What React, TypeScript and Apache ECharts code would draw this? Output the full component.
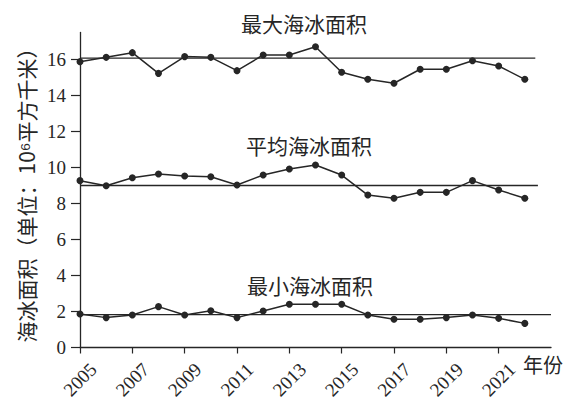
import React, { useEffect, useRef } from "react";
import * as echarts from "echarts";

const years = [2005, 2006, 2007, 2008, 2009, 2010, 2011, 2012, 2013, 2014, 2015, 2016, 2017, 2018, 2019, 2020, 2021, 2022];
const maxArea = [15.88, 16.12, 16.38, 15.23, 16.16, 16.12, 15.38, 16.25, 16.25, 16.71, 15.29, 14.9, 14.68, 15.46, 15.46, 15.93, 15.64, 14.9];
const avgArea = [9.27, 8.99, 9.43, 9.64, 9.53, 9.49, 9.03, 9.58, 9.92, 10.14, 9.58, 8.47, 8.29, 8.62, 8.62, 9.27, 8.75, 8.29];
const minArea = [1.86, 1.66, 1.81, 2.27, 1.81, 2.04, 1.66, 2.03, 2.4, 2.4, 2.4, 1.81, 1.57, 1.57, 1.66, 1.81, 1.62, 1.34];
const refMax = 16.08;
const refAvg = 9.0;
const refMin = 1.83;
const xTickYears = [2005, 2007, 2009, 2011, 2013, 2015, 2017, 2019, 2021];
const yTicks = [0, 2, 4, 6, 8, 10, 12, 14, 16];
const titles = ["最大海冰面积", "平均海冰面积", "最小海冰面积"];
const yName = "海冰面积（单位：10⁶平方千米）";
const xName = "年份";

const INK = "#262626";
const SERIF = "'Liberation Serif', 'Times New Roman', serif";
const CJK = "'Noto Sans CJK SC', sans-serif";

export default function App() {
  const ref = useRef<HTMLDivElement>(null);
  useEffect(() => {
    if (!ref.current) return;
    const chart = echarts.init(ref.current, undefined, { renderer: "svg" });
    const pts = (vals: number[]) => years.map((y, i) => [y, vals[i]]);
    const dataSeries = (name: string, vals: number[]) => ({
      name,
      type: "line",
      data: pts(vals),
      symbol: "circle",
      symbolSize: 7,
      itemStyle: { color: INK },
      lineStyle: { color: INK, width: 1.5 },
      z: 3,
    });
    const refSeries = (name: string, v: number, end: number) => ({
      name,
      type: "line",
      data: [[2005, v], [end, v]],
      showSymbol: false,
      symbol: "none",
      lineStyle: { color: INK, width: 1.3 },
      z: 2,
    });
    chart.setOption({
      animation: false,
      backgroundColor: "#ffffff",
      title: [
        { text: titles[0], left: 304, top: 12 },
        { text: titles[1], left: 309, top: 134 },
        { text: titles[2], left: 310, top: 274 },
      ].map((t) => ({
        ...t,
        textAlign: "center",
        padding: 0,
        textStyle: { fontFamily: CJK, fontSize: 21, fontWeight: "normal", color: INK },
      })),
      grid: { left: 80, right: 22, top: 32.5, bottom: 64.5 },
      xAxis: {
        type: "value",
        min: 2005,
        max: 2023,
        interval: 2,
        splitLine: { show: false },
        axisLine: { lineStyle: { color: INK, width: 1.3 } },
        axisTick: { show: true, length: 6, customValues: xTickYears, lineStyle: { color: INK, width: 1.2 } },
        axisLabel: {
          customValues: xTickYears,
          rotate: 45,
          align: "center",
          verticalAlign: "middle",
          margin: 32,
          fontFamily: SERIF,
          fontSize: 19,
          color: INK,
          formatter: (v: number) => String(v),
        },
      },
      yAxis: {
        type: "value",
        min: 0,
        max: 17.5,
        interval: 2,
        name: yName,
        nameLocation: "middle",
        nameRotate: 90,
        nameGap: 41,
        nameTextStyle: { fontFamily: CJK, fontSize: 21, color: INK },
        splitLine: { show: false },
        axisLine: { show: true, lineStyle: { color: INK, width: 1.3 } },
        axisTick: { show: true, length: 9, customValues: yTicks, lineStyle: { color: INK, width: 1.2 } },
        axisLabel: {
          customValues: yTicks,
          margin: 14,
          fontFamily: SERIF,
          fontSize: 19,
          color: INK,
        },
      },
      graphic: [
        {
          type: "text",
          left: 523,
          top: 354,
          style: { text: xName, fontFamily: CJK, fontSize: 20, fill: INK },
        },
      ],
      series: [
        refSeries("ref-max", refMax, 2022.4),
        refSeries("ref-avg", refAvg, 2022.5),
        refSeries("ref-min", refMin, 2023),
        dataSeries("最大海冰面积", maxArea),
        dataSeries("平均海冰面积", avgArea),
        dataSeries("最小海冰面积", minArea),
      ],
    });
    return () => chart.dispose();
  }, []);
  return (
    <div
      ref={ref}
      style={{ position: "fixed", left: 0, top: 0, width: 573, height: 412, background: "#fff" }}
    />
  );
}
